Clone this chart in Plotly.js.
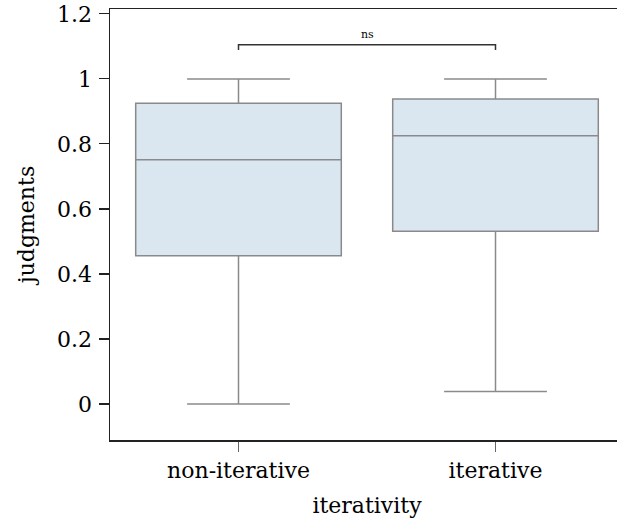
<!DOCTYPE html>
<html>
<head>
<meta charset="utf-8">
<script src="https://cdn.plot.ly/plotly-3.0.1.min.js"></script>
<style>
html,body{margin:0;padding:0;overflow:hidden;background:#fff;}
#chart{width:625px;height:520px;}
</style>
</head>
<body>
<div id="chart"></div>
<script>
// Data
var categories = ['non-iterative', 'iterative'];
var q1Values = [0.456, 0.531];
var medianValues = [0.751, 0.825];
var q3Values = [0.925, 0.938];
var lowerFence = [0.0, 0.038];
var upperFence = [1.0, 1.0];
var yTickVals = [0, 0.2, 0.4, 0.6, 0.8, 1, 1.2];
var yTickText = ['0', '0.2', '0.4', '0.6', '0.8', '1', '1.2'];
var sigLabel = 'ns';
var sigLevel = 1.105;
var sigDrop = 0.016;

var FONT = 'DejaVu Serif';
var FS = 22;

var box = {
  type: 'box',
  x: categories,
  q1: q1Values,
  median: medianValues,
  q3: q3Values,
  lowerfence: lowerFence,
  upperfence: upperFence,
  width: 0.8,
  whiskerwidth: 0.5,
  fillcolor: 'rgb(218,231,241)',
  line: {color: '#8a8a8a', width: 1.5},
  boxpoints: false,
  hoverinfo: 'skip',
  showlegend: false
};

var bracket = {
  type: 'scatter',
  mode: 'lines',
  x: [categories[0], categories[0], categories[1], categories[1]],
  y: [sigLevel - sigDrop, sigLevel, sigLevel, sigLevel - sigDrop],
  line: {color: '#333333', width: 1.5},
  hoverinfo: 'skip',
  showlegend: false
};

var layout = {
  width: 625,
  height: 520,
  margin: {l: 110, r: 1, t: 9, b: 80},
  paper_bgcolor: '#ffffff',
  plot_bgcolor: '#ffffff',
  font: {family: FONT, size: FS, color: '#000'},
  xaxis: {
    type: 'category',
    range: [-0.5, 1.5],
    showline: true,
    linecolor: '#222',
    linewidth: 1.5,
    mirror: true,
    ticks: 'outside',
    ticklen: 10,
    tickcolor: '#666',
    tickwidth: 1.2,
    showgrid: false,
    zeroline: false,
    tickfont: {family: FONT, size: FS, color: '#000'},
    ticklabelstandoff: 0,
    title: {text: 'iterativity', font: {family: FONT, size: FS, color: '#000'}, standoff: 15}
  },
  yaxis: {
    range: [-0.111, 1.215],
    tickvals: yTickVals,
    ticktext: yTickText,
    showline: true,
    linecolor: '#222',
    linewidth: 1.5,
    ticks: 'outside',
    ticklen: 10,
    tickcolor: '#222',
    tickwidth: 1.2,
    showgrid: false,
    zeroline: false,
    tickfont: {family: FONT, size: FS, color: '#000'},
    ticklabelstandoff: 2,
    title: {text: 'judgments', font: {family: FONT, size: FS, color: '#000'}, standoff: 16}
  },
  annotations: [{
    x: 0.5,
    xref: 'x',
    y: sigLevel,
    yref: 'y',
    text: sigLabel,
    showarrow: false,
    yanchor: 'bottom',
    yshift: 2,
    font: {family: FONT, size: 11, color: '#000'}
  }]
};

Plotly.newPlot('chart', [box, bracket], layout, {displayModeBar: false, staticPlot: true});
</script>
</body>
</html>
